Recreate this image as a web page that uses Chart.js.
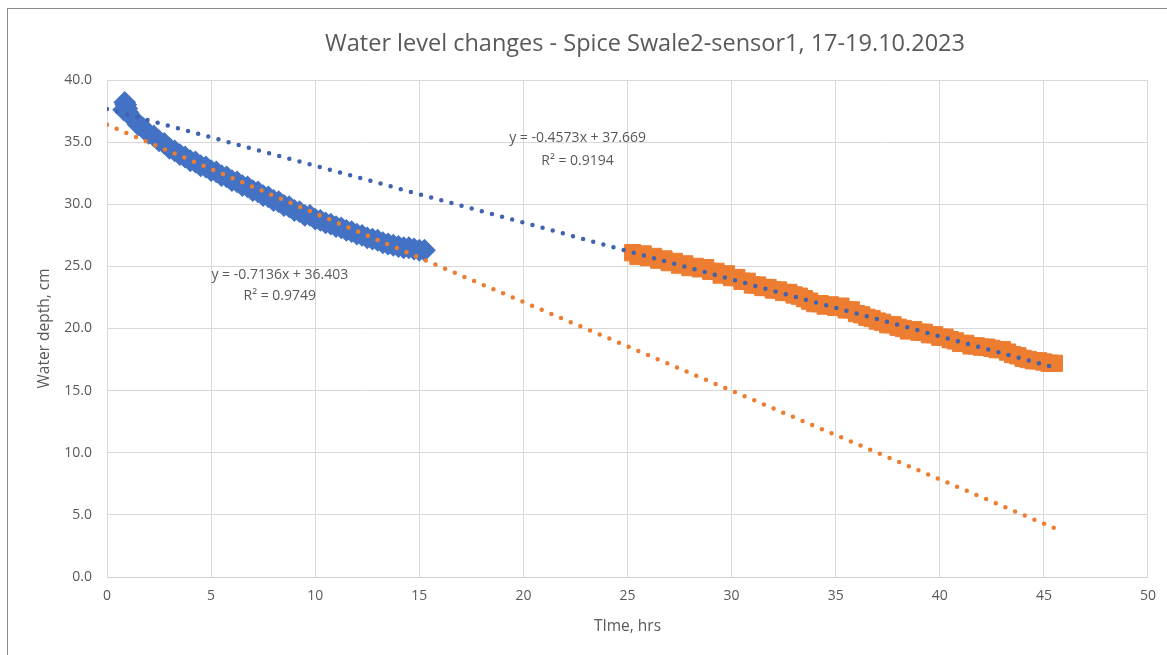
<!DOCTYPE html>
<html>
<head>
<meta charset="utf-8">
<script src="https://cdn.jsdelivr.net/npm/chart.js@4.4.1/dist/chart.umd.min.js"></script>
<style>
  body { margin: 0; background: #fff; overflow: hidden; }
  #marco { position: absolute; left: 7px; top: 8px; width: 1170px; height: 660px; border: 1.5px solid #8c8c8c; }
  #caja { position: absolute; left: 0; top: 0; width: 1167px; height: 655px; }
</style>
</head>
<body>
<div id="marco"></div>
<div id="caja"><canvas id="nivelChart"></canvas></div>
<script>
// Series 1 (blue diamonds), 17.10 - first part
const tiempoAzul = [0.8, 0.85, 0.9, 0.95, 1.0, 1.25, 1.5, 1.75, 2.0, 2.25, 2.5, 2.75, 3.0, 3.25, 3.5, 3.75,
  4.0, 4.25, 4.5, 4.75, 5.0, 5.25, 5.5, 5.75, 6.0, 6.25, 6.5, 6.75, 7.0, 7.25, 7.5, 7.75,
  8.0, 8.25, 8.5, 8.75, 9.0, 9.25, 9.5, 9.75, 10.0, 10.25, 10.5, 10.75, 11.0, 11.25, 11.5, 11.75,
  12.0, 12.25, 12.5, 12.75, 13.0, 13.25, 13.5, 13.75, 14.0, 14.25, 14.5, 14.75, 15.0, 15.25];
const nivelAzul = [37.6, 38.2, 38.0, 37.7, 37.4, 36.9, 36.4, 36.1, 35.7, 35.5, 35.1, 34.9, 34.5, 34.3, 34.0, 33.8,
  33.5, 33.4, 33.1, 33.0, 32.7, 32.6, 32.3, 32.2, 31.9, 31.8, 31.5, 31.4, 31.1, 31.0, 30.7, 30.6,
  30.3, 30.2, 29.9, 29.8, 29.5, 29.4, 29.1, 29.1, 28.8, 28.7, 28.5, 28.4, 28.2, 28.1, 27.9, 27.8,
  27.6, 27.5, 27.3, 27.2, 27.1, 26.9, 26.8, 26.7, 26.6, 26.5, 26.5, 26.4, 26.3, 26.3];

// Series 2 (orange squares), second part
const tiempoNaranja = [25.25, 25.5, 25.75, 26.0, 26.25, 26.5, 26.75, 27.0, 27.25, 27.5, 27.75, 28.0, 28.25, 28.5, 28.75,
  29.0, 29.25, 29.5, 29.75, 30.0, 30.25, 30.5, 30.75, 31.0, 31.25, 31.5, 31.75, 32.0, 32.25, 32.5, 32.75,
  33.0, 33.25, 33.5, 33.75, 34.0, 34.25, 34.5, 34.75, 35.0, 35.25, 35.5, 35.75, 36.0, 36.25, 36.5, 36.75,
  37.0, 37.25, 37.5, 37.75, 38.0, 38.25, 38.5, 38.75, 39.0, 39.25, 39.5, 39.75, 40.0, 40.25, 40.5, 40.75,
  41.0, 41.25, 41.5, 41.75, 42.0, 42.25, 42.5, 42.75, 43.0, 43.25, 43.5, 43.75, 44.0, 44.25, 44.5, 44.75,
  45.0, 45.25, 45.5];
const nivelNaranja = [26.1, 25.8, 26.0, 25.7, 25.8, 25.5, 25.6, 25.3, 25.4, 25.1, 25.2, 24.9, 25.0, 24.8, 24.9,
  24.6, 24.6, 24.3, 24.4, 24.1, 24.1, 23.8, 23.8, 23.5, 23.5, 23.3, 23.3, 23.1, 23.1, 22.9, 22.9,
  22.7, 22.6, 22.4, 22.2, 22.0, 22.0, 21.8, 21.9, 21.7, 21.8, 21.5, 21.5, 21.2, 21.1, 20.9, 20.8,
  20.6, 20.5, 20.3, 20.3, 20.1, 20.0, 19.8, 19.9, 19.7, 19.7, 19.5, 19.5, 19.3, 19.3, 19.1, 19.0,
  18.8, 18.8, 18.6, 18.6, 18.5, 18.5, 18.4, 18.3, 18.3, 18.1, 17.9, 17.8, 17.6, 17.5, 17.4, 17.4,
  17.3, 17.2, 17.2];

// Linear trendlines (Excel): [orange dotted, blue dotted]
const pendiente = [-0.7136, -0.4573];
const intercepto = [36.403, 37.669];
const r2 = [0.9749, 0.9194];
const rangoTendencia = [0, 45.5];

// Axis ticks
const ticksX = [0, 5, 10, 15, 20, 25, 30, 35, 40, 45, 50];
const ticksY = [0, 5, 10, 15, 20, 25, 30, 35, 40];

const AZUL = '#4472C4';
const NARANJA = '#ED7D31';
const GRIS = '#595959';
const FUENTE = "'Open Sans', sans-serif";

const puntos = (xs, ys) => xs.map((x, i) => ({ x: x, y: ys[i] }));
const tendencia = (i) => rangoTendencia.map(x => ({ x: x, y: pendiente[i] * x + intercepto[i] }));

const ecuacion = (i) => `y = ${pendiente[i]}x + ${intercepto[i]}`;

// Title and equation labels
const textos = {
  id: 'textos',
  afterDatasetsDraw(chart) {
    const ctx = chart.ctx;
    const sx = chart.scales.x;
    const sy = chart.scales.y;
    ctx.save();
    ctx.fillStyle = GRIS;
    ctx.textAlign = 'center';
    ctx.textBaseline = 'middle';
    ctx.font = `23.5px ${FUENTE}`;
    ctx.fillText('Water level changes - Spice Swale2-sensor1, 17-19.10.2023', 645, 44);

    ctx.font = `14px ${FUENTE}`;
    // orange trend label (near blue data)
    ctx.fillText(ecuacion(0), sx.getPixelForValue(8.3), sy.getPixelForValue(24.3));
    ctx.fillText(`R² = ${r2[0]}`, sx.getPixelForValue(8.3), sy.getPixelForValue(22.6));
    // blue trend label
    ctx.fillText(ecuacion(1), sx.getPixelForValue(22.6), sy.getPixelForValue(35.3));
    ctx.fillText(`R² = ${r2[1]}`, sx.getPixelForValue(22.6), sy.getPixelForValue(33.5));
    ctx.restore();
  }
};

const ctx = document.getElementById('nivelChart').getContext('2d');
new Chart(ctx, {
  type: 'scatter',
  data: {
    datasets: [
      {
        label: 'Series1',
        data: puntos(tiempoAzul, nivelAzul),
        pointStyle: 'rectRot',
        pointRadius: 10,
        backgroundColor: AZUL,
        borderColor: AZUL,
        borderWidth: 2,
        order: 2
      },
      {
        label: 'Series2',
        data: puntos(tiempoNaranja, nivelNaranja),
        pointStyle: 'rect',
        pointRadius: 11.5,
        backgroundColor: NARANJA,
        borderColor: NARANJA,
        borderWidth: 1,
        order: 2
      },
      {
        label: 'Linear (Series1)',
        type: 'line',
        data: tendencia(0),
        showLine: true,
        pointRadius: 0,
        borderColor: NARANJA,
        borderWidth: 4.5,
        borderDash: [0, 10.5],
        borderCapStyle: 'round',
        fill: false,
        order: 0
      },
      {
        label: 'Linear (Series2)',
        type: 'line',
        data: tendencia(1),
        showLine: true,
        pointRadius: 0,
        borderColor: '#3f63b0',
        borderWidth: 4.5,
        borderDash: [0, 10.5],
        borderCapStyle: 'round',
        fill: false,
        order: 0
      }
    ]
  },
  options: {
    responsive: true,
    maintainAspectRatio: false,
    animation: false,
    layout: { padding: { top: 80, left: 20, right: 19, bottom: 10 } },
    plugins: {
      legend: { display: false },
      tooltip: { enabled: false }
    },
    scales: {
      x: {
        type: 'linear',
        min: 0,
        max: 50,
        afterBuildTicks: (s) => { s.ticks = ticksX.map(v => ({ value: v })); },
        afterFit: (s) => { s.height = 68; },
        ticks: { color: GRIS, font: { family: FUENTE, size: 14 }, padding: 11 },
        grid: { color: '#d9d9d9', drawTicks: false },
        border: { color: '#d0d0d0' },
        title: {
          display: true,
          text: 'TIme, hrs',
          color: GRIS,
          font: { family: FUENTE, size: 15.5 },
          padding: { top: 0, bottom: 9 }
        }
      },
      y: {
        min: 0,
        max: 40,
        afterBuildTicks: (s) => { s.ticks = ticksY.map(v => ({ value: v })); },
        afterFit: (s) => { s.width = 87; },
        ticks: {
          color: GRIS,
          font: { family: FUENTE, size: 14 },
          padding: 15,
          callback: (v) => v.toFixed(1)
        },
        grid: { color: '#d9d9d9', drawTicks: false },
        border: { display: false },
        title: {
          display: true,
          text: 'Water depth, cm',
          color: GRIS,
          font: { family: FUENTE, size: 15.5 },
          padding: { top: 15, bottom: 0 }
        }
      }
    }
  },
  plugins: [textos]
});
</script>
</body>
</html>
